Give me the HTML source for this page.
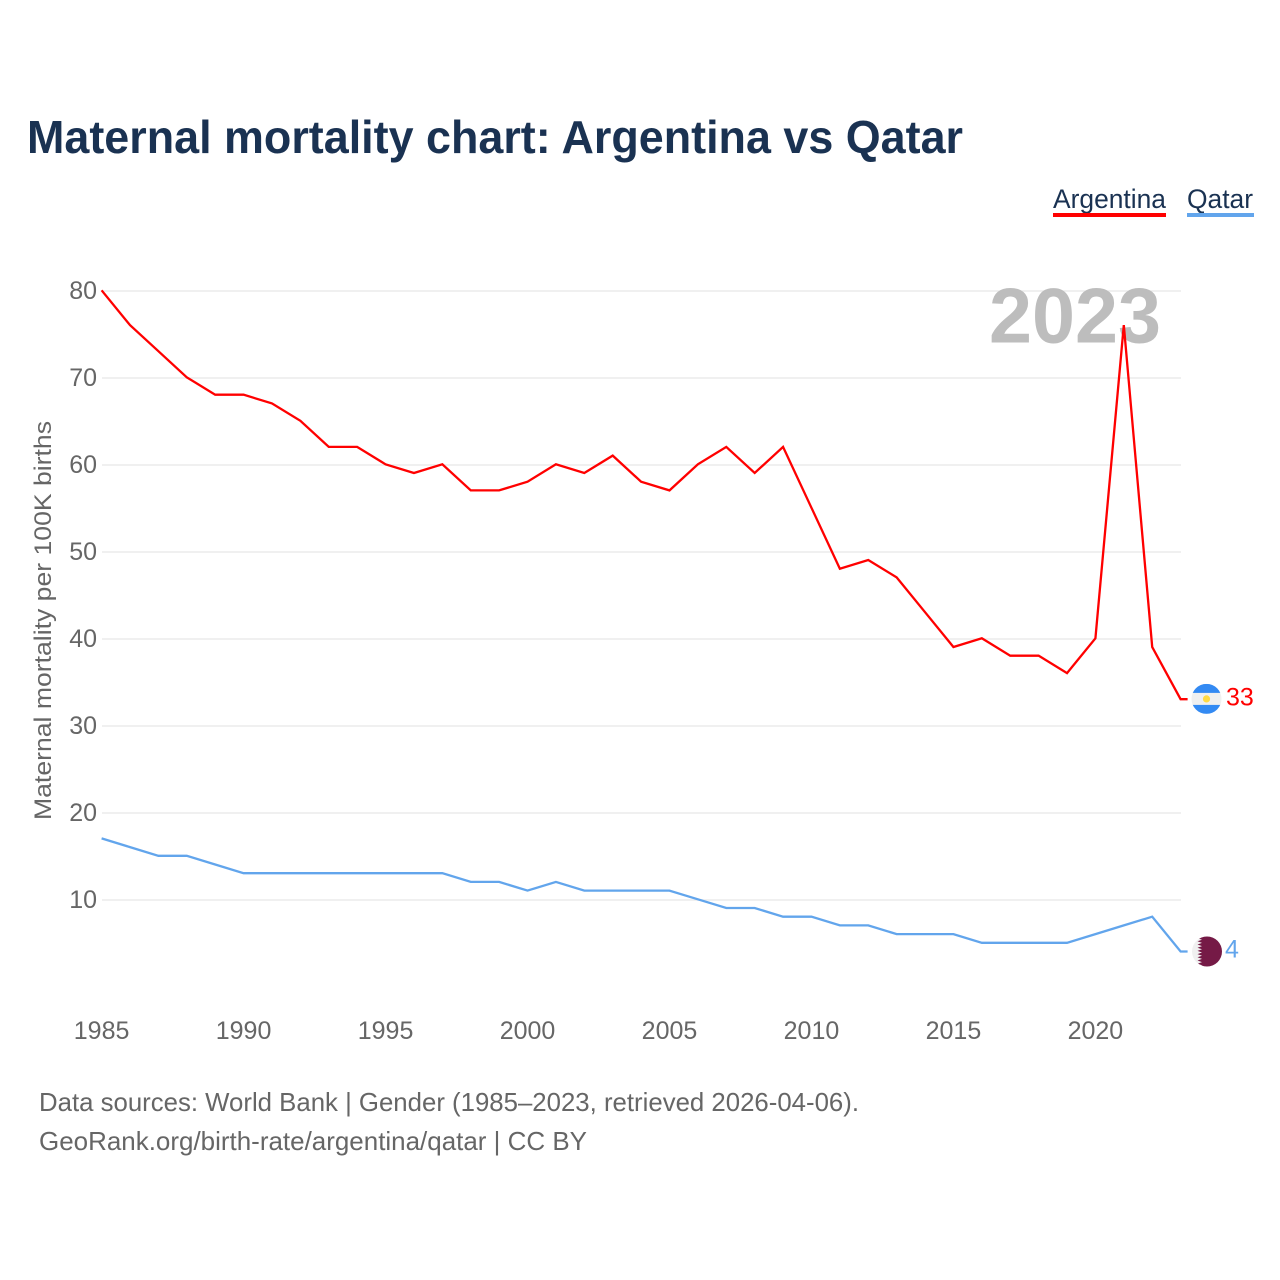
<!DOCTYPE html>
<html lang="en">
<head>
<meta charset="utf-8">
<title>Maternal mortality chart: Argentina vs Qatar</title>
<style>
html,body{margin:0;padding:0;background:#fff;width:1280px;height:1280px;overflow:hidden}
svg{display:block}
text{font-family:"Liberation Sans",sans-serif}
</style>
</head>
<body>
<svg id="chart" xmlns="http://www.w3.org/2000/svg" width="1280" height="1280" viewBox="0 0 1280 1280">
  <rect x="0" y="0" width="1280" height="1280" fill="#fff"/>
  <text x="27" y="153" font-size="46" font-weight="700" fill="#1a3252" textLength="936" lengthAdjust="spacingAndGlyphs">Maternal mortality chart: Argentina vs Qatar</text>

  <g>
    <g>
      <text x="1053" y="208" font-size="27" fill="#1a3252" textLength="113" lengthAdjust="spacingAndGlyphs">Argentina</text>
      <rect x="1053" y="213" width="113" height="4" fill="#ff0000"/>
    </g>
    <g>
      <text x="1187" y="208" font-size="27" fill="#1a3252" textLength="66" lengthAdjust="spacingAndGlyphs">Qatar</text>
      <rect x="1187" y="213" width="67" height="4" fill="#62a5ec"/>
    </g>
  </g>

  <g id="grid"></g>
  <text id="yearLabel" x="1161" y="342.5" font-size="78" font-weight="700" fill="#bdbdbd" text-anchor="end" textLength="172" lengthAdjust="spacingAndGlyphs"></text>
  <g id="yAxis"></g>
  <g id="xAxis"></g>
  <text transform="translate(51 820) rotate(-90)" x="0" y="0" font-size="24.5" fill="#666" textLength="399" lengthAdjust="spacingAndGlyphs">Maternal mortality per 100K births</text>
  <g id="series"></g>

  <defs>
    <clipPath id="flagClip"><circle cx="0" cy="0" r="15"/></clipPath>
  </defs>
  <g id="flagAr">
    <g clip-path="url(#flagClip)">
      <rect x="-15" y="-15" width="30" height="30" fill="#f0f0f0"/>
      <rect x="-15" y="-15" width="30" height="9" fill="#338af3"/>
      <rect x="-15" y="6" width="30" height="9" fill="#338af3"/>
      <circle cx="0" cy="0" r="3.6" fill="#ffda44"/>
    </g>
  </g>
  <g id="flagQa">
    <g clip-path="url(#flagClip)">
      <rect x="-15" y="-15" width="30" height="30" fill="#f0f0f0"/>
      <path fill="#751a46" d="M15-15H-5L-9.5-13.4-5-11.8-9.5-10.2-5-8.6-9.5-7-5-5.4-9.5-3.8-5-2.2-9.5-.6-5 1-9.5 2.6-5 4.2-9.5 5.8-5 7.4-9.5 9-5 10.6-9.5 12.2-5 13.8-9.5 15H15Z"/>
    </g>
  </g>
  <text id="valAr" font-size="25" fill="#ff0000"></text>
  <text id="valQa" font-size="25" fill="#62a5ec"></text>

  <text x="39" y="1111" font-size="26" fill="#666" textLength="820" lengthAdjust="spacingAndGlyphs">Data sources: World Bank | Gender (1985–2023, retrieved 2026-04-06).</text>
  <text x="39" y="1150" font-size="26" fill="#666" textLength="548" lengthAdjust="spacingAndGlyphs">GeoRank.org/birth-rate/argentina/qatar | CC BY</text>
</svg>
<script>
const years = [1985,1986,1987,1988,1989,1990,1991,1992,1993,1994,1995,1996,1997,1998,1999,2000,2001,2002,2003,2004,2005,2006,2007,2008,2009,2010,2011,2012,2013,2014,2015,2016,2017,2018,2019,2020,2021,2022,2023];
const argentina = [80,76,73,70,68,68,67,65,62,62,60,59,60,57,57,58,60,59,61,58,57,60,62,59,62,55,48,49,47,43,39,40,38,38,36,40,76,39,33];
const qatar = [17,16,15,15,14,13,13,13,13,13,13,13,13,12,12,11,12,11,11,11,11,10,9,9,8,8,7,7,6,6,6,5,5,5,5,6,7,8,4];
const yTicks = [10,20,30,40,50,60,70,80];
const xTicks = [1985,1990,1995,2000,2005,2010,2015,2020];
const currentYear = 2023;

const NS = 'http://www.w3.org/2000/svg';
function xScale(year){ return 102 + (year - 1985) * (1181 - 102) / 38; }
function yScale(v){ return 987 - v * 8.7; }
function lineX(year){ return xScale(year) - 0.4; }
function lineY(v){ return yScale(v) - 0.7; }

const grid = document.getElementById('grid');
const yAxis = document.getElementById('yAxis');
const xAxis = document.getElementById('xAxis');
const series = document.getElementById('series');

yTicks.forEach(function(t){
  const ln = document.createElementNS(NS, 'line');
  
  
  ln.setAttribute('x1', xScale(1985));
  ln.setAttribute('x2', xScale(2023));
  ln.setAttribute('y1', yScale(t));
  ln.setAttribute('y2', yScale(t));
  ln.setAttribute('stroke', '#ebebeb');
  ln.setAttribute('stroke-width', '1.5');
  grid.appendChild(ln);

  const lb = document.createElementNS(NS, 'text');
  
  
  lb.setAttribute('x', 97);
  lb.setAttribute('y', yScale(t) + 8);
  lb.setAttribute('text-anchor', 'end');
  lb.setAttribute('font-size', '25');
  lb.setAttribute('fill', '#666');
  lb.textContent = t;
  yAxis.appendChild(lb);
});

xTicks.forEach(function(t){
  const lb = document.createElementNS(NS, 'text');
  
  
  lb.setAttribute('x', lineX(t));
  lb.setAttribute('y', 1039);
  lb.setAttribute('text-anchor', 'middle');
  lb.setAttribute('font-size', '25');
  lb.setAttribute('fill', '#666');
  lb.textContent = t;
  xAxis.appendChild(lb);
});

function pathFor(values){
  let d = values.map(function(v, i){
    return (i ? 'L' : 'M') + lineX(years[i]).toFixed(2) + ' ' + lineY(v).toFixed(2);
  }).join('');
  d += 'L' + (lineX(years[years.length - 1]) + 7).toFixed(2) + ' ' + lineY(values[values.length - 1]).toFixed(2);
  return d;
}

const lineQa = document.createElementNS(NS, 'path');


lineQa.setAttribute('d', pathFor(qatar));
lineQa.setAttribute('fill', 'none');
lineQa.setAttribute('stroke', '#62a5ec');
lineQa.setAttribute('stroke-width', '2.3');
series.appendChild(lineQa);

const lineAr = document.createElementNS(NS, 'path');


lineAr.setAttribute('d', pathFor(argentina));
lineAr.setAttribute('fill', 'none');
lineAr.setAttribute('stroke', '#ff0000');
lineAr.setAttribute('stroke-width', '2.3');
series.appendChild(lineAr);

document.getElementById('yearLabel').textContent = currentYear;

const endAr = argentina[argentina.length - 1];
const endQa = qatar[qatar.length - 1];
document.getElementById('flagAr').setAttribute('transform', 'translate(1206.5 ' + (yScale(endAr) - 1) + ')');
document.getElementById('flagQa').setAttribute('transform', 'translate(1207 ' + (yScale(endQa) - 0.7) + ')');
const valAr = document.getElementById('valAr');
valAr.setAttribute('x', 1226);
valAr.setAttribute('y', yScale(endAr) + 5.5);
valAr.textContent = endAr;
const valQa = document.getElementById('valQa');
valQa.setAttribute('x', 1225);
valQa.setAttribute('y', yScale(endQa) + 5.5);
valQa.textContent = endQa;
</script>
</body>
</html>
